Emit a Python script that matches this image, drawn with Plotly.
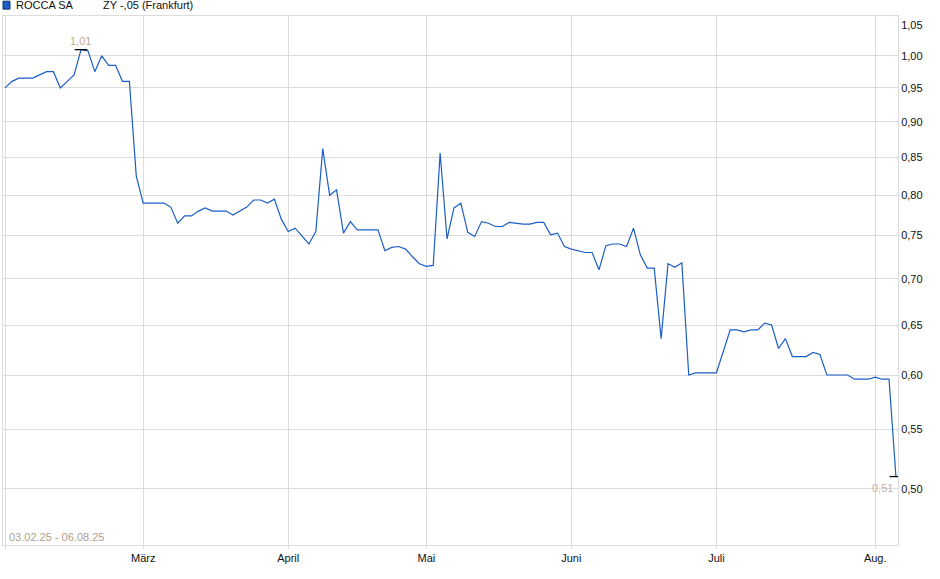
import math
import pandas as pd
import plotly.graph_objects as go

# trading days on Frankfurt, 03.02.25 - 06.08.25
start_date = "2025-02-03"
end_date = "2025-08-06"
holidays = ["2025-04-18", "2025-04-21", "2025-05-01"]
dates = pd.bdate_range(start_date, end_date)
dates = [d.strftime("%Y-%m-%d") for d in dates if d.strftime("%Y-%m-%d") not in holidays]

prices = [
    0.95, 0.96, 0.965, 0.965, 0.965, 0.97, 0.975, 0.975, 0.95, 0.96,
    0.97, 1.01, 1.008, 0.975, 1.00, 0.985, 0.985, 0.96, 0.96, 0.825,
    0.79, 0.79, 0.79, 0.79, 0.785, 0.765, 0.774, 0.774, 0.78, 0.784,
    0.78, 0.78, 0.78, 0.775, 0.78, 0.785, 0.794, 0.794, 0.79, 0.795,
    0.77, 0.755, 0.759, 0.75, 0.74, 0.755, 0.862, 0.80, 0.807, 0.753,
    0.767, 0.757, 0.757, 0.757, 0.757, 0.732, 0.736, 0.737, 0.734, 0.725,
    0.717, 0.714, 0.715, 0.856, 0.746, 0.784, 0.79, 0.754, 0.749, 0.767,
    0.765, 0.761, 0.761, 0.766, 0.765, 0.764, 0.764, 0.766, 0.766, 0.751,
    0.753, 0.737, 0.734, 0.732, 0.73, 0.73, 0.71, 0.738, 0.74, 0.74,
    0.737, 0.759, 0.727, 0.712, 0.712, 0.636, 0.717, 0.713, 0.718, 0.60,
    0.602, 0.602, 0.602, 0.602, 0.623, 0.645, 0.645, 0.643, 0.645, 0.645,
    0.652, 0.65, 0.626, 0.636, 0.618, 0.618, 0.618, 0.622, 0.62, 0.60,
    0.60, 0.60, 0.60, 0.596, 0.596, 0.596, 0.598, 0.596, 0.596, 0.51,
]

month_ticks = ["2025-02-03", "2025-03-03", "2025-04-01", "2025-05-02",
               "2025-06-02", "2025-07-01", "2025-08-01"]
month_labels = ["", "März", "April", "Mai", "Juni", "Juli", "Aug."]
y_ticks = [0.50, 0.55, 0.60, 0.65, 0.70, 0.75, 0.80, 0.85, 0.90, 0.95, 1.00, 1.05]
y_grid = [0.50, 0.55, 0.60, 0.65, 0.70, 0.75, 0.80, 0.85, 0.90, 0.95, 1.00]

i_max = prices.index(max(prices))
i_min = prices.index(min(prices))

grid = "#dcdcdc"
font = "Liberation Sans, Arial, sans-serif"

fig = go.Figure()
fig.add_trace(go.Scatter(x=dates, y=prices, mode="lines",
                         line=dict(color="#1b5ec6", width=1.2), hoverinfo="x+y"))
# hidden trace that carries the grid axis
fig.add_trace(go.Scatter(x=dates, y=prices, mode="lines", yaxis="y2",
                         line=dict(width=0), hoverinfo="skip"))
fig.add_trace(go.Scatter(x=[dates[i_max], dates[i_min]], y=[prices[i_max], prices[i_min]],
                         mode="markers", hoverinfo="skip",
                         marker=dict(symbol="line-ew", size=9, line=dict(color="black", width=1.3))))

# annotations on a log axis take log10 positions
fig.add_annotation(x=i_max, y=math.log10(prices[i_max]), xref="x", yref="y",
                   text=f"{prices[i_max]:.2f}".replace(".", ","),
                   showarrow=False, yanchor="bottom", yshift=1, xshift=-1,
                   font=dict(family=font, size=11, color="#c4aa8c"))
fig.add_annotation(x=i_min, y=math.log10(prices[i_min]), xref="x", yref="y",
                   text=f"{prices[i_min]:.2f}".replace(".", ","),
                   showarrow=False, yanchor="top", xanchor="right", yshift=-3, xshift=-1,
                   font=dict(family=font, size=11, color="#c4b4a4"))

# header legend
fig.add_shape(type="rect", xref="paper", yref="paper", x0=0.0, x1=0.0078, y0=1.013, y1=1.028,
              fillcolor="#1b5ec6", line=dict(color="#0d2f70", width=1))
fig.add_annotation(xref="paper", yref="paper", x=0.0123, y=1.021, text="ROCCA SA",
                   showarrow=False, xanchor="left", yanchor="middle",
                   font=dict(family=font, size=11, color="#111"))
fig.add_annotation(xref="paper", yref="paper", x=0.109, y=1.021, text="ZY -,05 (Frankfurt)",
                   showarrow=False, xanchor="left", yanchor="middle",
                   font=dict(family=font, size=11, color="#111"))
fig.add_annotation(xref="paper", yref="paper", x=0.004, y=0.0, text="03.02.25 - 06.08.25",
                   showarrow=False, xanchor="left", yanchor="bottom",
                   font=dict(family=font, size=11, color="#ad9f8f"))

y_range = [-0.34, 0.0277]
fig.update_layout(
    width=940, height=579,
    margin=dict(l=3, r=42, t=16, b=34),
    paper_bgcolor="white", plot_bgcolor="white",
    showlegend=False, separators=",.",
    font=dict(family=font, size=11, color="#222"),
    xaxis=dict(type="category", range=[-0.3, len(dates) - 0.7],
               tickvals=month_ticks, ticktext=month_labels,
               showgrid=True, gridcolor=grid, gridwidth=1,
               showline=True, linecolor=grid, mirror=True,
               ticks="outside", ticklen=3, tickcolor=grid,
               tickfont=dict(size=11, color="#111"), zeroline=False),
    yaxis=dict(type="log", side="right", range=y_range,
               tickvals=y_ticks, tickformat=".2f", showgrid=False,
               showline=True, linecolor=grid, mirror=True,
               tickfont=dict(size=11, color="#111"), zeroline=False),
    yaxis2=dict(type="log", overlaying="y", range=y_range, tickvals=y_grid,
                showticklabels=False, showgrid=True, gridcolor=grid, gridwidth=1,
                zeroline=False),
)

fig.write_html("out.html", config={"displayModeBar": False},
               post_script="document.body.style.margin='0px';")
